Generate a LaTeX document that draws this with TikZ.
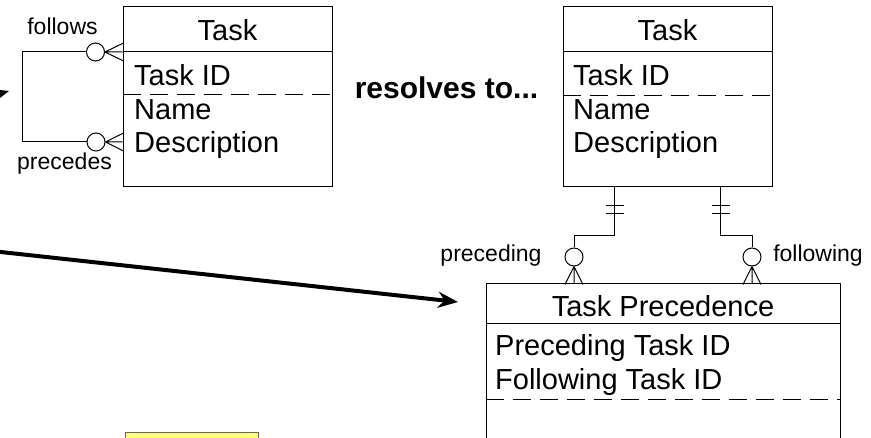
\documentclass[tikz,border=0pt]{standalone}
\usepackage{fontspec}
\setmainfont{Liberation Sans}
\usetikzlibrary{arrows.meta}
\definecolor{notefill}{RGB}{255,255,128}
\tikzset{
  entity/.style={draw, line width=1pt, inner sep=0pt},
  rel/.style={line width=1pt},
  keyline/.style={line width=1pt, dash pattern=on 18pt off 9pt},
  title/.style={anchor=base, inner sep=0pt, font=\fontsize{29}{33}\selectfont},
  attr/.style={anchor=base west, inner sep=0pt, font=\fontsize{29}{33}\selectfont},
  role/.style={anchor=base, inner sep=0pt, font=\fontsize{23}{26}\selectfont},
  ring/.style={draw, circle, line width=1pt, minimum size=18pt, inner sep=0pt, fill=white},
  bigarrow/.style={line width=4pt, -{Stealth[length=20pt, width=16pt]}}
}

\begin{document}
\begin{tikzpicture}[x=1pt, y=-1pt]
\useasboundingbox (0,0) rectangle (871,438);
\clip (0,0) rectangle (871,438);
% recursive Task
\node[entity, minimum width=209pt, minimum height=180pt] (task1) at (227.5,97) {};
\draw[rel] ([yshift=-45pt]task1.north west) -- ([yshift=-45pt]task1.north east);
\draw[keyline] ([yshift=-88pt]task1.north west) -- ([yshift=-88pt]task1.north east);
\node[title] (task1name) at (227.5,41) {Task};
\node[attr] (task1id) at (134,86) {Task ID};
\node[attr] (task1nm) at (134,120) {Name};
\node[attr] (task1ds) at (134,153) {Description};
\node[ring] (ringA) at (95.5,52) {};
\node[ring] (ringB) at (96,142) {};
\draw[rel] (ringA.west) -- ++(-64,0) |- (ringB.west);
\draw[rel] (ringA.east) -- ++(18.5,-9) (ringA.east) -- ++(18.5,9) (ringA.east) -- (ringA -| task1.west);
\draw[rel] (ringB.east) -- ++(18,-9) (ringB.east) -- ++(18,9) (ringB.east) -- (ringB -| task1.west);
\node[role] (follows) at (62.5,35) {follows};
\node[role] (precedes) at (64.5,170) {precedes};
\node[anchor=base, inner sep=0pt, font=\fontsize{30}{33}\selectfont\bfseries] (resolves) at (446.5,99) {resolves to...};
% resolved Task
\node[entity, minimum width=209pt, minimum height=180pt] (task2) at (667.5,97) {};
\draw[rel] ([yshift=-45pt]task2.north west) -- ([yshift=-45pt]task2.north east);
\draw[keyline] ([yshift=-89pt]task2.north west) -- ([yshift=-89pt]task2.north east);
\node[title] (task2name) at (667.5,41) {Task};
\node[attr] (task2id) at (573,86) {Task ID};
\node[attr] (task2nm) at (573,120) {Name};
\node[attr] (task2ds) at (573,153) {Description};
% Task Precedence
\node[entity, minimum width=354pt, minimum height=200pt] (prec) at (663,384) {};
\draw[rel] ([yshift=-40pt]prec.north west) -- ([yshift=-40pt]prec.north east);
\draw[keyline] ([yshift=-116pt]prec.north west) -- ([yshift=-116pt]prec.north east);
\node[title] (precname) at (663,317) {Task Precedence};
\node[attr] (precfrom) at (495,356) {Preceding Task ID};
\node[attr] (precto) at (495,390) {Following Task ID};
\node[ring] (ringC) at (574,257) {};
\node[ring] (ringD) at (752,257) {};
\draw[rel] ([xshift=52pt]task2.south west) -- ++(0,48) -| (ringC.north);
\draw[rel] ([xshift=-52pt]task2.south east) -- ++(0,48) -| (ringD.north);
\draw[rel] ([xshift=52pt]task2.south west) ++(-9,18) -- ++(18,0) ++(-18,8) -- ++(18,0);
\draw[rel] ([xshift=-52pt]task2.south east) ++(-9,18) -- ++(18,0) ++(-18,8) -- ++(18,0);
\draw[rel] (ringC.south) -- ++(-9,18) (ringC.south) -- ++(9,18) (ringC.south) -- (ringC |- prec.north);
\draw[rel] (ringD.south) -- ++(-9,18) (ringD.south) -- ++(9,18) (ringD.south) -- (ringD |- prec.north);
\node[role] (preceding) at (491,262) {preceding};
\node[role] (following) at (818,262) {following};
% arrows and note
\coordinate (tailA) at (-87,118);
\coordinate (tipA) at (9,91);
\draw[bigarrow] (tailA) -- (tipA);
\coordinate (tailB) at (-100,241);
\coordinate (tipB) at (458,302);
\draw[bigarrow] (tailB) -- (tipB);
\node[draw=black!60, fill=notefill, line width=1pt, minimum width=133pt, minimum height=40pt] (note) at (191.5,453) {};
\end{tikzpicture}
\end{document}
